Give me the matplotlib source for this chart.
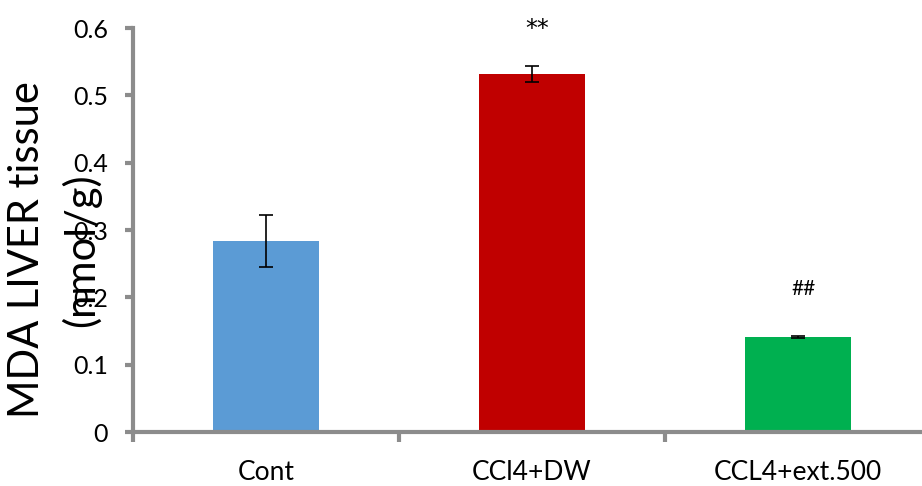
import matplotlib.pyplot as plt

groups = ["Cont", "CCl4+DW", "CCL4+ext.500"]
means = [0.284, 0.532, 0.141]
errs = [0.039, 0.012, 0.001]
marks = ["", "**", "##"]
mark_y = [None, 0.598, 0.212]
colors = ["#5B9BD5", "#C00000", "#00B050"]

plt.rcParams["font.family"] = ["Lato", "DejaVu Sans"]

fig = plt.figure(figsize=(9.22, 4.86), dpi=100)
ax = fig.add_axes([133/922, 1-432/486, 798/922, 404/486])

x = range(len(groups))
ax.bar(x, means, width=0.40, color=colors, zorder=2)
ax.errorbar(x, means, yerr=errs, fmt="none", ecolor="black", elinewidth=1.2,
            capsize=5, capthick=1.2, zorder=3)
for i, m in enumerate(marks):
    if m:
        ax.text(i + 0.02, mark_y[i], m, ha="center", va="center", clip_on=False,
                fontsize=17 if m == "**" else 15,
                family=["DejaVu Sans"] if m == "**" else ["Lato"])

ax.set_xlim(-0.5, 2.5)
ax.set_ylim(0, 0.6)
ax.set_yticks([0, 0.1, 0.2, 0.3, 0.4, 0.5, 0.6])
ax.set_yticklabels(["0", "0.1", "0.2", "0.3", "0.4", "0.5", "0.6"])
ax.set_xticks(list(x))
ax.set_xticklabels(groups)
ax.set_xticks([-0.5, 0.5, 1.5, 2.5], minor=True)
ax.tick_params(axis="x", which="major", length=0, labelsize=19, pad=20)
ax.tick_params(axis="x", which="minor", length=7, width=3, color="#8c8c8c", direction="out")
ax.tick_params(axis="y", length=6, width=3, color="#8c8c8c", labelsize=18, pad=12)

for s in ["top", "right"]:
    ax.spines[s].set_visible(False)
for s in ["left", "bottom"]:
    ax.spines[s].set_color("#8c8c8c")
    ax.spines[s].set_linewidth(3)

fig.text(55/922, 1-250/486, "MDA LIVER tissue\n(nmol/g)", rotation=90,
         ha="center", va="center", multialignment="center", fontsize=30,
         linespacing=1.45)

plt.savefig("out.png", dpi=100)
